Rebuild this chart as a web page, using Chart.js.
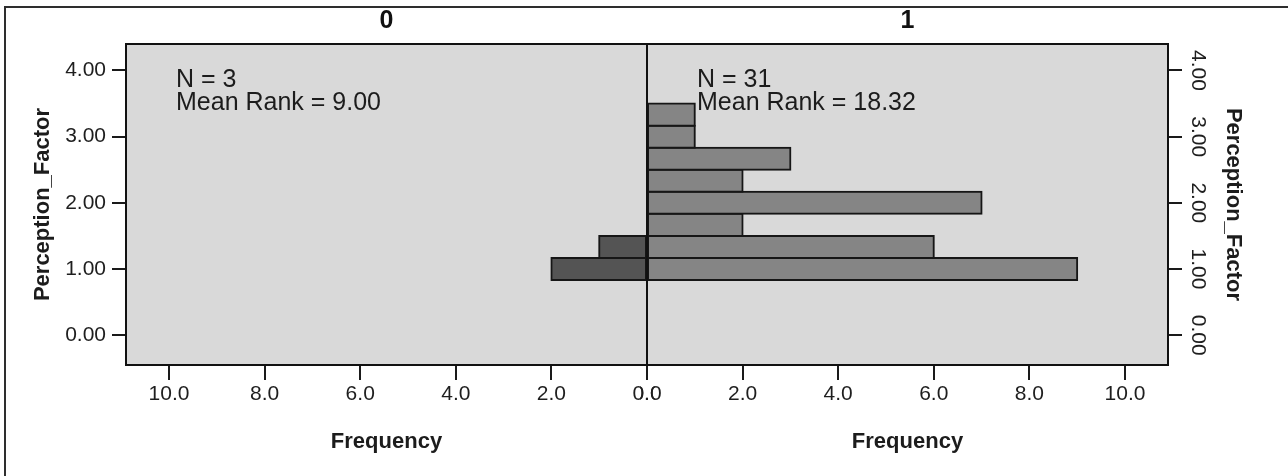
<!DOCTYPE html>
<html>
<head>
<meta charset="utf-8">
<title>Perception_Factor by group</title>
<script src="https://cdn.jsdelivr.net/npm/chart.js@4.4.1/dist/chart.umd.min.js"></script>
<style>
  html, body { margin: 0; padding: 0; background: #ffffff; }
  #wrap { position: relative; width: 1288px; height: 476px; overflow: hidden; }
  #frame { position: absolute; left: 4px; top: 6px; width: 1320px; height: 520px;
           border-top: 2px solid #2e2e2e; border-left: 2px solid #2e2e2e; }
  canvas { position: absolute; top: 0; }
  #panel0 { left: 0; }
  #panel1 { left: 640px; }
</style>
</head>
<body>
<div id="wrap">
  <div id="frame"></div>
  <canvas id="panel0" width="655" height="476"></canvas>
  <canvas id="panel1" width="648" height="476"></canvas>
</div>
<script>
// Group headers and histogram bins (bin midpoints of Perception_Factor)
const groupLabels = ['0', '1'];
const binMidpoints = [1.000, 1.333, 1.667, 2.000, 2.333, 2.667, 3.000, 3.333];
const freqGroup0 = [2, 1, 0, 0, 0, 0, 0, 0];
const freqGroup1 = [9, 6, 2, 7, 2, 3, 1, 1];
const meanRanks = ['9.00', '18.32'];

// Axis ticks
const yTickValues = [0, 1, 2, 3, 4];
const xTickValues = [0, 2, 4, 6, 8, 10];
const yRange = [-0.45, 4.40];
const xMax = 10.9;

Chart.defaults.font.family = '"Liberation Sans", Arial, Helvetica, sans-serif';
Chart.defaults.color = '#222222';

const TEXT = '#1c1c1c';

// Grey plot panel with a black frame around it
const panelFrame = {
  id: 'panelFrame',
  beforeDraw(chart) {
    const { ctx, chartArea: a } = chart;
    ctx.save();
    ctx.fillStyle = '#d9d9d9';
    ctx.fillRect(a.left, a.top, a.right - a.left, a.bottom - a.top);
    ctx.restore();
  },
  afterDatasetsDraw(chart) {
    const { ctx, chartArea: a } = chart;
    ctx.save();
    ctx.strokeStyle = '#111111';
    ctx.lineWidth = 2;
    ctx.strokeRect(a.left, a.top, a.right - a.left, a.bottom - a.top);
    ctx.restore();
  }
};

// "N = .." / "Mean Rank = .." text in the upper left of each panel
const groupStats = {
  id: 'groupStats',
  afterDraw(chart, args, opts) {
    const { ctx, chartArea: a } = chart;
    ctx.save();
    ctx.font = '25px "Liberation Sans", Arial, sans-serif';
    ctx.fillStyle = TEXT;
    ctx.textAlign = 'left';
    ctx.textBaseline = 'alphabetic';
    opts.lines.forEach((line, i) => {
      ctx.fillText(line, a.left + 50, a.top + 42.5 + i * 23.5);
    });
    ctx.restore();
  }
};

function sum(arr) { return arr.reduce((s, v) => s + v, 0); }

function buildPanel(canvasId, idx, freqs, fill) {
  const left = idx === 0;
  const data = binMidpoints.map((b, i) => ({ x: freqs[i] > 0 ? freqs[i] : null, y: b }));

  return new Chart(document.getElementById(canvasId), {
    type: 'bar',
    data: {
      datasets: [{
        data: data,
        backgroundColor: fill,
        borderColor: '#161616',
        borderWidth: 2,
        borderSkipped: false,
        inflateAmount: 1,
        barPercentage: 1,
        categoryPercentage: 1
      }]
    },
    options: {
      indexAxis: 'y',
      responsive: false,
      animation: false,
      devicePixelRatio: 1,
      layout: {
        autoPadding: false,
        padding: left ? { left: 0, right: 8, top: 0, bottom: 0 }
                      : { left: 7, right: 0, top: 0, bottom: 0 }
      },
      plugins: {
        legend: { display: false },
        tooltip: { enabled: false },
        title: {
          display: true,
          text: groupLabels[idx],
          fullSize: false,
          color: '#111111',
          font: { size: 25, weight: 'bold', lineHeight: 1.2 },
          padding: { top: 6, bottom: 8 }
        },
        groupStats: {
          lines: ['N = ' + sum(freqs), 'Mean Rank = ' + meanRanks[idx]]
        }
      },
      scales: {
        x: {
          type: 'linear',
          reverse: left,
          min: 0,
          max: xMax,
          afterBuildTicks: s => { s.ticks = xTickValues.map(v => ({ value: v })); },
          afterFit: s => { s.height = 111; s.paddingLeft = 0; s.paddingRight = 0; },
          grid: { drawOnChartArea: false, drawTicks: true, tickLength: 15,
                  color: '#1a1a1a', lineWidth: 2 },
          border: { display: false },
          ticks: {
            autoSkip: false, maxRotation: 0, padding: 2,
            color: '#1e1e1e',
            font: { size: 21 },
            callback: v => Number(v).toFixed(1)
          },
          title: {
            display: true, text: 'Frequency', color: TEXT,
            font: { size: 22, weight: 'bold', lineHeight: 1.2 },
            padding: { top: 0, bottom: 21 }
          }
        },
        y: {
          type: 'linear',
          position: left ? 'left' : 'right',
          min: yRange[0],
          max: yRange[1],
          offset: false,
          afterBuildTicks: s => { s.ticks = yTickValues.map(v => ({ value: v })); },
          afterFit: s => { s.width = left ? 126 : 120; s.paddingTop = 0; s.paddingBottom = 0; },
          grid: { offset: false, drawOnChartArea: false, drawTicks: true, tickLength: 14,
                  color: '#1a1a1a', lineWidth: 2 },
          border: { display: false },
          ticks: left ? {
            autoSkip: false, padding: 6, color: '#1e1e1e',
            font: { size: 21 },
            callback: v => Number(v).toFixed(2)
          } : {
            autoSkip: false, padding: -5, color: '#1e1e1e',
            minRotation: -90, maxRotation: 0,
            crossAlign: 'center',
            font: { size: 21 },
            callback: v => Number(v).toFixed(2)
          },
          title: {
            display: true, text: 'Perception_Factor', color: TEXT,
            font: { size: 22, weight: 'bold', lineHeight: 1.2 },
            padding: { top: left ? 30 : 42, bottom: 0 }
          }
        }
      }
    },
    plugins: [panelFrame, groupStats]
  });
}

buildPanel('panel0', 0, freqGroup0, '#545454');
buildPanel('panel1', 1, freqGroup1, '#858585');
</script>
</body>
</html>
